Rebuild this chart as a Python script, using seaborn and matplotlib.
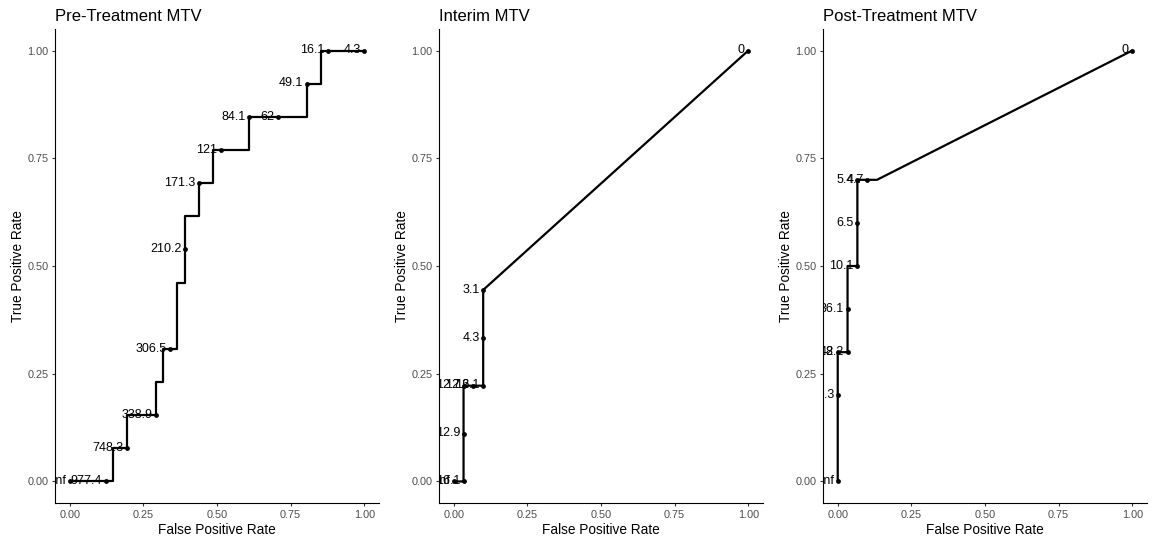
import numpy as np
import pandas as pd
import matplotlib
matplotlib.use("Agg")
import matplotlib.pyplot as plt
import seaborn as sns

# ROC vertices, as counts of false / true positives
# Pre-treatment: 41 negatives, 13 positives
pre_neg, pre_pos = 41, 13
pre_fp = [0, 5, 6, 6, 8, 8, 12, 12, 13, 13, 14, 15, 15, 16, 16, 16, 18, 18, 20, 20,
          21, 25, 25, 29, 33, 33, 35, 35, 36, 41]
pre_tp = [0, 0, 0, 1, 1, 2, 2, 3, 3, 4, 4, 4, 6, 6, 7, 8, 8, 9, 9, 10,
          10, 10, 11, 11, 11, 12, 12, 13, 13, 13]
pre_cut = ["Inf", "977.4", "", "", "748.3", "", "338.9", "", "", "", "306.5", "", "", "",
           "210.2", "", "", "171.3", "", "", "121", "", "84.1", "62", "", "49.1", "", "",
           "16.1", "4.3"]

# Interim: 30 negatives, 9 positives
int_neg, int_pos = 30, 9
int_fp = [0, 1, 1, 1, 2, 3, 3, 3, 30]
int_tp = [0, 0, 1, 2, 2, 2, 3, 4, 9]
int_cut = ["Inf", "16.1", "12.9", "12.7", "12.6", "12.1", "4.3", "3.1", "0"]

# Post-treatment: 30 negatives, 10 positives
post_neg, post_pos = 30, 10
post_fp = [0, 0, 0, 1, 1, 1, 2, 2, 2, 3, 4, 30]
post_tp = [0, 2, 3, 3, 4, 5, 5, 6, 7, 7, 7, 10]
post_cut = ["Inf", "72.3", "59.2", "48.2", "36.1", "", "10.1", "6.5", "5.4", "4.7", "", "0"]

panels = [
    ("Pre-Treatment MTV", pre_fp, pre_tp, pre_cut, pre_neg, pre_pos),
    ("Interim MTV", int_fp, int_tp, int_cut, int_neg, int_pos),
    ("Post-Treatment MTV", post_fp, post_tp, post_cut, post_neg, post_pos),
]

sns.set_theme(style="ticks")
plt.rcParams["font.family"] = ["Liberation Sans", "DejaVu Sans"]

fig = plt.figure(figsize=(11.57, 5.49), dpi=100)
W, H = 1157, 549
lefts = [55, 439, 823]
top, bottom, width = 29, 503, 324

ticks = [0, 0.25, 0.5, 0.75, 1.0]
ticklabels = ["0.00", "0.25", "0.50", "0.75", "1.00"]

for left, (title, fp, tp, cut, nneg, npos) in zip(lefts, panels):
    ax = fig.add_axes([left / W, (H - bottom) / H, width / W, (bottom - top) / H])
    df = pd.DataFrame({"fpr": np.array(fp) / nneg, "tpr": np.array(tp) / npos, "cutoff": cut})
    sns.lineplot(data=df, x="fpr", y="tpr", sort=False, estimator=None,
                 color="black", linewidth=1.6, ax=ax)
    pts = df[df["cutoff"] != ""]
    sns.scatterplot(data=pts, x="fpr", y="tpr", color="black", s=12,
                    linewidth=0, zorder=3, ax=ax)
    for _, r in pts.iterrows():
        ax.annotate(r["cutoff"], (r["fpr"], r["tpr"]), xytext=(-2.5, -2),
                    textcoords="offset points", ha="right", va="baseline",
                    fontsize=9, color="black", clip_on=True)
    ax.set_xlim(-0.05, 1.05)
    ax.set_ylim(-0.05, 1.05)
    ax.set_xticks(ticks)
    ax.set_xticklabels(ticklabels)
    ax.set_yticks(ticks)
    ax.set_yticklabels(ticklabels)
    ax.tick_params(labelsize=7.8, labelcolor="#4D4D4D", color="#333333",
                   length=2.5, width=0.8, pad=2.2)
    ax.set_xlabel("False Positive Rate", fontsize=9.8, color="black", labelpad=2.5)
    ax.set_ylabel("True Positive Rate", fontsize=9.8, color="black", labelpad=2)
    ax.set_title(title, loc="left", fontsize=12, color="black", pad=6)
    sns.despine(ax=ax)
    for s in ["left", "bottom"]:
        ax.spines[s].set_color("black")
        ax.spines[s].set_linewidth(0.8)

fig.savefig("out.png", dpi=100)
